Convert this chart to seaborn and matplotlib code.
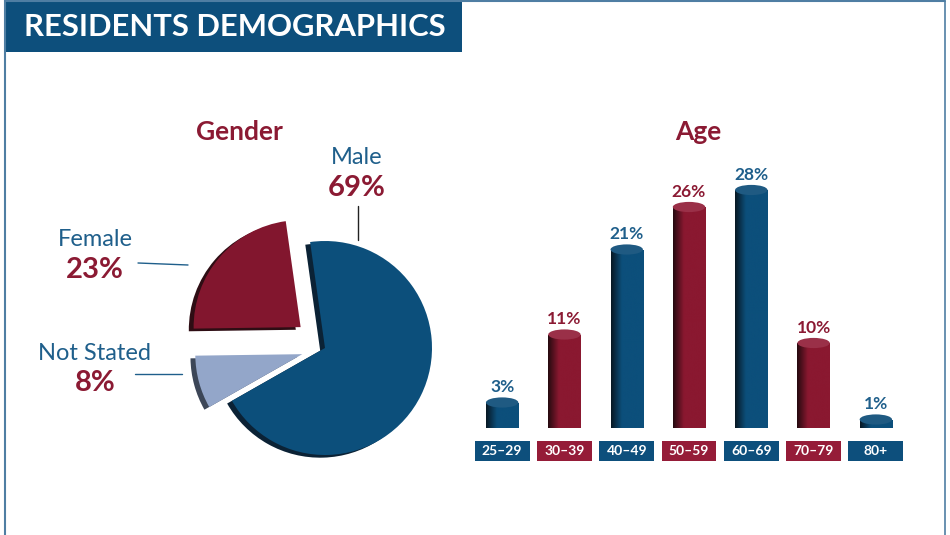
import numpy as np
import pandas as pd
import matplotlib
matplotlib.use("Agg")
import matplotlib.pyplot as plt
import seaborn as sns
from matplotlib.patches import Rectangle, Ellipse
from matplotlib.lines import Line2D
from matplotlib.colors import LinearSegmentedColormap

# ---------------- data ----------------
gender_labels = ["Male", "Not Stated", "Female"]
gender_values = [69, 8, 23]
age_groups = ["25–29", "30–39", "40–49", "50–59", "60–69", "70–79", "80+"]
age_values = [3, 11, 21, 26, 28, 10, 1]

# ---------------- styles ----------------
NAVY = "#0d4f7c"
BLUE = "#0c4f7b"
RED = "#8a1830"
RED_BOX = "#951c38"
TXT_BLUE = "#1f5f8b"
TXT_RED = "#8b1a33"
LIGHT = "#93a6c9"
FRAME = "#4f7ea3"

sns.set_theme(style="white")
plt.rcParams['font.family'] = ['Lato', 'DejaVu Sans']

fig = plt.figure(figsize=(9.5, 5.35), dpi=100)
fig.patch.set_facecolor("white")


def fx(px):
    return px / 950


def fy(py):
    return 1 - py / 535


# frame lines
fig.add_artist(Line2D([fx(5), fx(5)], [0, 1], color=FRAME, lw=1.5))
fig.add_artist(Line2D([fx(5), fx(945)], [fy(1), fy(1)], color=FRAME, lw=1.5))
fig.add_artist(Line2D([fx(945), fx(945)], [0, fy(1)], color=FRAME, lw=1.2))

# title banner
fig.add_artist(Rectangle((fx(5), fy(52)), 457 / 950, 50 / 535,
                         transform=fig.transFigure, color=NAVY, lw=0))
fig.text(fx(24), fy(27), "RESIDENTS DEMOGRAPHICS", color="white",
         fontsize=22.3, fontweight="bold", ha="left", va="center")

# ---------------- pie (gender) ----------------
ax_pie = fig.add_axes([fx(325 - 160.5), fy(348 + 160.5), 321 / 950, 321 / 535])
explode = [0, 0.22, 0.3]
main_cols = [BLUE, LIGHT, "#82162e"]
dark_cols = ["#0b2235", "#3c4657", "#2e0d14"]
ax_pie.pie(gender_values, startangle=98, counterclock=False, explode=explode,
           colors=dark_cols, center=(-0.045, -0.025),
           wedgeprops=dict(linewidth=0))
ax_pie.pie(gender_values, startangle=98, counterclock=False, explode=explode,
           colors=main_cols, center=(0, 0),
           wedgeprops=dict(linewidth=0))
ax_pie.set_aspect("equal")
ax_pie.set_xlim(-1.5, 1.5)
ax_pie.set_ylim(-1.5, 1.5)
ax_pie.axis("off")

fig.text(fx(239), fy(132), "Gender", color=TXT_RED, fontsize=19,
         fontweight="bold", ha="center", va="center")

label_pos = {"Male": (357, 158, 188), "Female": (95, 240, 270),
             "Not Stated": (95, 354, 383)}
for lab, val in zip(gender_labels, gender_values):
    x, y1, y2 = label_pos[lab]
    fig.text(fx(x), fy(y1), lab, color=TXT_BLUE, fontsize=17,
             ha="center", va="center")
    fig.text(fx(x), fy(y2), f"{val}%", color=TXT_RED, fontsize=21,
             fontweight="bold", ha="center", va="center")

fig.add_artist(Line2D([fx(358), fx(358)], [fy(206), fy(240)], color="#222222", lw=1))
fig.add_artist(Line2D([fx(138), fx(188)], [fy(263), fy(265)], color=TXT_BLUE, lw=1))
fig.add_artist(Line2D([fx(135), fx(182)], [fy(374), fy(374)], color=TXT_BLUE, lw=1))

# ---------------- bars (age) ----------------
ax_bar = fig.add_axes([fx(471), fy(428), 436 / 950, 297.5 / 535])
bar_colors = [BLUE if i % 2 == 0 else RED for i in range(len(age_groups))]
box_colors = [NAVY if i % 2 == 0 else RED_BOX for i in range(len(age_groups))]
txt_colors = [TXT_BLUE if i % 2 == 0 else TXT_RED for i in range(len(age_groups))]
df = pd.DataFrame({"age": age_groups, "pct": age_values})
sns.barplot(data=df, x="age", y="pct", hue="age", palette=bar_colors,
            legend=False, width=0.52, saturation=1, ax=ax_bar)

grad = np.linspace(0, 1, 256).reshape(1, -1)
EH = 1.2
for i, patch in enumerate(ax_bar.patches):
    x0 = patch.get_x()
    w = patch.get_width()
    h = patch.get_height()
    col = bar_colors[i]
    dark = "#081722" if i % 2 == 0 else "#240a0f"
    cmap = LinearSegmentedColormap.from_list(f"g{i}", [dark, col, col, col])
    patch.set_alpha(0)
    bottom_el = Ellipse((x0 + w / 2, 0), w, EH, transform=ax_bar.transData,
                        facecolor="none", edgecolor="none")
    ax_bar.add_patch(bottom_el)
    bottom_el.set_clip_on(False)
    for clipper in (patch, bottom_el):
        im = ax_bar.imshow(grad, extent=(x0, x0 + w, -EH, h), cmap=cmap,
                           aspect="auto", origin="lower", zorder=2)
        im.set_clip_path(clipper)
    top_col = "#1f5a82" if i % 2 == 0 else "#9a3048"
    top = Ellipse((x0 + w / 2, h), w, EH, facecolor=top_col,
                  edgecolor="none", zorder=3)
    ax_bar.add_patch(top)
    ax_bar.text(x0 + w / 2, h + 0.85, f"{age_values[i]}%", ha="center",
                va="bottom", fontsize=12.5, fontweight="bold", color=txt_colors[i])
    # category box
    ax_bar.add_patch(Rectangle((i - 0.44, -3.9), 0.88, 2.4, color=box_colors[i],
                               lw=0, clip_on=False, zorder=3))
    ax_bar.text(i, -2.7, age_groups[i], ha="center", va="center", color="white",
                fontsize=10, fontweight="bold", clip_on=False, zorder=4)

ax_bar.set_xlim(-0.5, 6.5)
ax_bar.set_ylim(0, 35)
ax_bar.axis("off")

fig.text(fx(698), fy(132), "Age", color=TXT_RED, fontsize=19,
         fontweight="bold", ha="center", va="center")

fig.savefig("out.png", dpi=100, facecolor="white")
